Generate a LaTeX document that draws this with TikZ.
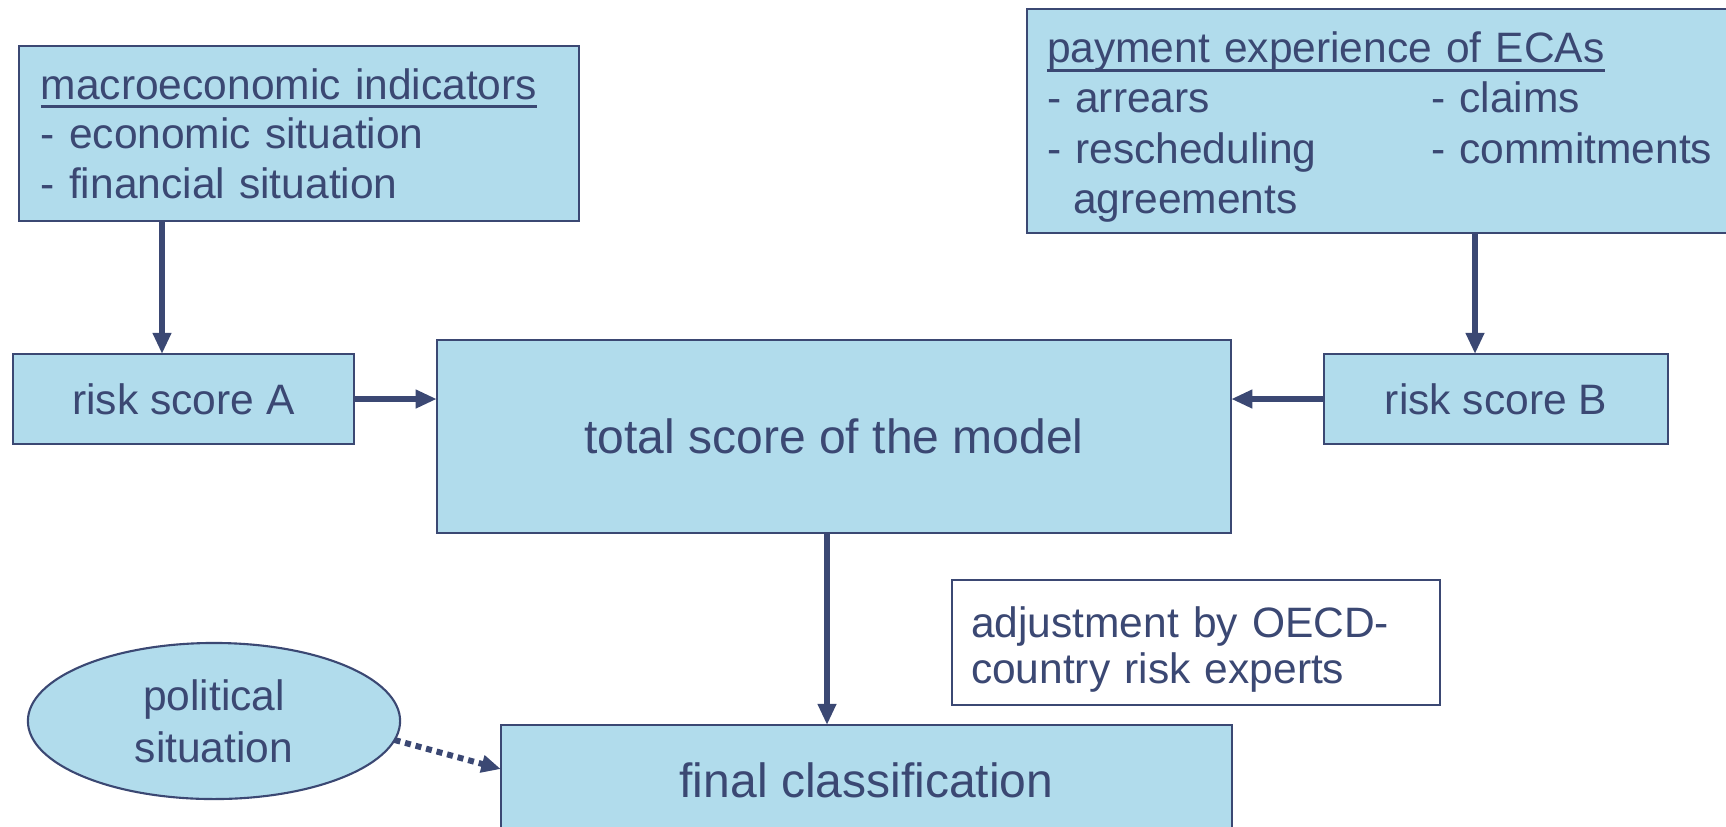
\documentclass[tikz,border=0pt]{standalone}
\usepackage{fontspec}
\setmainfont{Liberation Sans}
\usetikzlibrary{shapes.geometric,arrows.meta,calc}

\definecolor{boxfill}{HTML}{B1DCEC}
\definecolor{ink}{HTML}{3B4873}

% underline drawn close to the baseline, as in slide text
\newcommand{\undl}[1]{\setbox0\hbox{#1}\rlap{\rule[-2.6pt]{\wd0}{0.85pt}}\box0}

\tikzset{
  base/.style={draw=ink, line width=0.6pt, text=ink, inner sep=0pt, outer sep=0pt},
  bluebox/.style={base, rectangle, fill=boxfill},
  whitebox/.style={base, rectangle, fill=white, line width=0.75pt},
  plaintext/.style={text=ink, inner sep=0pt, outer sep=0pt},
  listtext/.style={font=\fontsize{12.09pt}{14.1pt}\selectfont, align=left},
  scoretext/.style={font=\fontsize{12.1pt}{15pt}\selectfont},
  bigtext/.style={font=\fontsize{13.66pt}{16pt}\selectfont},
  flow/.style={draw=ink, line width=1.5pt, -{Triangle[length=6pt,width=5pt]}},
  hint/.style={draw=ink, line width=1.7pt, dash pattern=on 1.7pt off 1.4pt,
               -{Triangle[length=5.5pt,width=4.8pt]}}
}

\begin{document}
\begin{tikzpicture}[x=0.01cm, y=-0.01cm]
  \fill[white] (0,0) rectangle (1726,826);
  \useasboundingbox (0,0) rectangle (1726,826);

  % input boxes
  \node[bluebox, listtext, minimum width=5.6cm, minimum height=1.75cm,
        text width=5.16cm] (macro) at (299,133.5)
    {\undl{macroeconomic indicators}\\
     - economic situation\\
     - financial situation};

  \node[bluebox, minimum width=7.6cm, minimum height=2.24cm,
        anchor=west] (pay) at (1027,121) {};
  \node[plaintext, listtext, font=\fontsize{12.09pt}{14.3pt}\selectfont,
        text width=7.2cm, anchor=west] (paytext) at (1047,127)
    {\undl{payment experience of ECAs}\\
     \makebox[3.84cm][l]{- arrears}- claims\\
     \makebox[3.84cm][l]{- rescheduling}- commitments\\
     \hspace*{0.26cm}agreements};

  % scores
  \node[bluebox, scoretext, minimum width=3.41cm, minimum height=0.9cm] (riskA) at (183.5,399) {risk score A};
  \node[bluebox, scoretext, minimum width=3.44cm, minimum height=0.9cm] (riskB) at (1496,399) {risk score B};
  \node[bluebox, bigtext, minimum width=7.94cm, minimum height=1.93cm] (total) at (834,436.5) {total score of the model};

  % outcome
  \node[bluebox, bigtext, minimum width=7.31cm, minimum height=1.1cm] (final) at (866.5,780) {final classification};
  \node[whitebox, minimum width=4.88cm, minimum height=1.25cm] (adj) at (1196,642.5) {};
  \node[plaintext, listtext, font=\fontsize{12.09pt}{13.1pt}\selectfont,
        text width=4.5cm, anchor=west] (adjtext) at (971,649.5)
    {adjustment by OECD-\\country risk experts};
  \node[base, ellipse, fill=boxfill, listtext, align=center,
        font=\fontsize{12.09pt}{14.8pt}\selectfont,
        minimum width=3.72cm, minimum height=1.56cm] (pol) at (214,721)
    {political\\situation};

  % arrow columns
  \coordinate (xa) at (162,0);
  \coordinate (xb) at (1475,0);
  \coordinate (xc) at (827,0);

  \draw[flow] (macro.south -| xa) -- (riskA.north -| xa);
  \draw[flow] (pay.south -| xb) -- (riskB.north -| xb);
  \draw[flow] (riskA.east) -- (riskA.east -| total.west);
  \draw[flow] (riskB.west) -- (riskB.west -| total.east);
  \draw[flow] (total.south -| xc) -- (final.north -| xc);
  \draw[hint] (pol.-6) -- ($(final.north west)!0.4!(final.south west)$);
\end{tikzpicture}
\end{document}
